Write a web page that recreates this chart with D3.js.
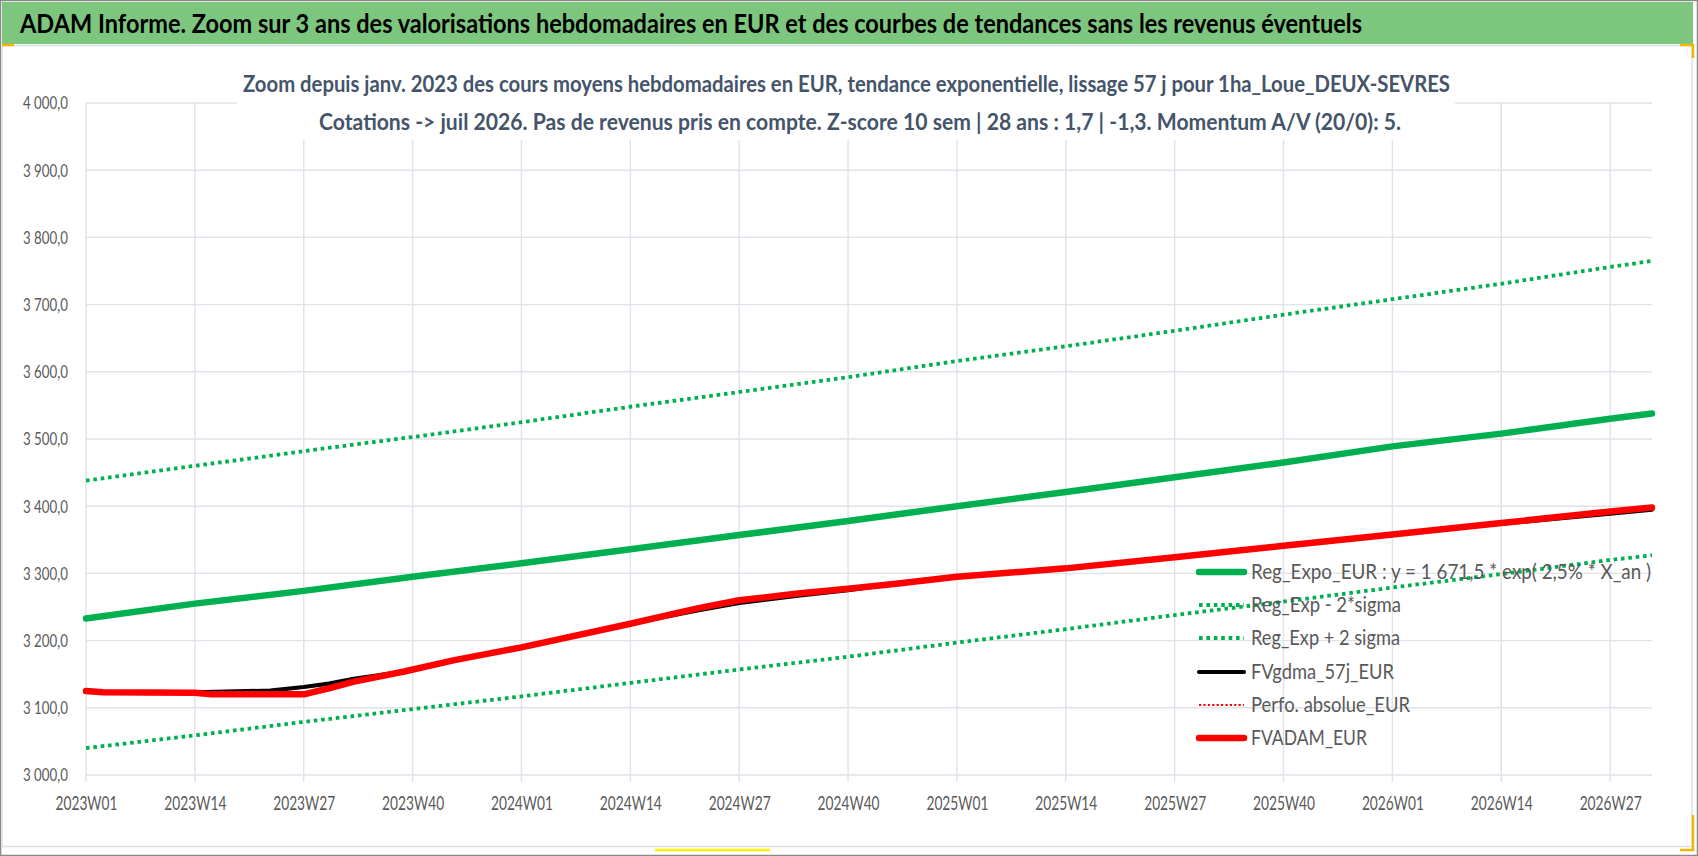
<!DOCTYPE html>
<html><head><meta charset="utf-8">
<script src="https://cdn.jsdelivr.net/npm/d3@7"></script>
<style>
body{margin:0;background:#fff}
svg{display:block}
text{font-family:Lato,"Open Sans","DejaVu Sans",sans-serif}
</style>
</head><body>
<svg id="chart" width="1698" height="856"></svg>
<script>
// ---------- DATA ----------
const categories = [];
for (const [yr, n] of [[2023, 52], [2024, 52], [2025, 52], [2026, 32]])
  for (let w = 1; w <= n; w++) categories.push(yr + "W" + String(w).padStart(2, "0"));

const tickLabels = ["2023W01","2023W14","2023W27","2023W40","2024W01","2024W14","2024W27","2024W40",
  "2025W01","2025W14","2025W27","2025W40","2026W01","2026W14","2026W27"];
const yTicks = [3000,3100,3200,3300,3400,3500,3600,3700,3800,3900,4000];

const regExpo = [["2023W01",3233],["2023W14",3255],["2023W27",3274],["2023W40",3295],["2024W01",3315],
  ["2024W14",3336],["2024W27",3357],["2024W40",3378],["2025W01",3400],["2025W14",3421],["2025W27",3443],
  ["2025W40",3465],["2026W01",3489],["2026W14",3508],["2026W27",3530],["2026W32",3538]];
const regMinus2 = [["2023W01",3040],["2023W14",3059],["2023W27",3079],["2023W40",3098],["2024W01",3117],
  ["2024W14",3137],["2024W27",3157],["2024W40",3176],["2025W01",3197],["2025W14",3217],["2025W27",3238],
  ["2025W40",3258],["2026W01",3279],["2026W14",3299],["2026W27",3320],["2026W32",3327]];
const regPlus2 = [["2023W01",3438],["2023W14",3460],["2023W27",3482],["2023W40",3503],["2024W01",3525],
  ["2024W14",3548],["2024W27",3570],["2024W40",3592],["2025W01",3616],["2025W14",3638],["2025W27",3661],
  ["2025W40",3685],["2026W01",3708],["2026W14",3731],["2026W27",3756],["2026W32",3765]];
const fvgdma = [["2023W01",3125],["2023W03",3123.5],["2023W14",3123],["2023W19",3124.5],["2023W23",3125.5],
  ["2023W27",3131],["2023W30",3136],["2023W33",3143],["2023W39",3154],["2023W45",3171],["2024W01",3190],
  ["2024W14",3225],["2024W22",3245],["2024W27",3256],["2024W34",3267],["2024W40",3275],["2024W46",3285],
  ["2025W01",3295],["2025W14",3307],["2025W27",3324],["2025W40",3341],["2026W01",3358],["2026W14",3374],
  ["2026W27",3389],["2026W32",3395]];
const perfoAbs = [["2023W01",3125],["2023W03",3123],["2023W14",3122.5],["2023W16",3120],["2023W27",3120],
  ["2023W30",3129],["2023W33",3139],["2023W39",3154],["2023W45",3171],["2024W01",3190],["2024W14",3225],
  ["2024W22",3248],["2024W27",3260],["2024W34",3270],["2024W40",3277],["2024W46",3285],["2025W01",3295],
  ["2025W14",3307.5],["2025W27",3324],["2025W40",3341],["2026W01",3358],["2026W14",3375],["2026W27",3392],
  ["2026W32",3398]];
const fvadam = [["2023W01",3125],["2023W03",3123],["2023W14",3122.5],["2023W16",3120],["2023W27",3120],
  ["2023W30",3129],["2023W33",3139],["2023W39",3154],["2023W45",3171],["2024W01",3190],["2024W14",3225],
  ["2024W22",3248],["2024W27",3260],["2024W34",3270],["2024W40",3277],["2024W46",3285],["2025W01",3295],
  ["2025W14",3307.5],["2025W27",3324],["2025W40",3341],["2026W01",3358],["2026W14",3375],["2026W27",3392],
  ["2026W32",3398]];

const titleText = "ADAM Informe. Zoom sur 3 ans des valorisations hebdomadaires en EUR et des courbes de tendances sans les revenus éventuels";
const subtitle1 = "Zoom depuis janv. 2023 des cours moyens hebdomadaires en EUR, tendance exponentielle, lissage 57 j pour 1ha_Loue_DEUX-SEVRES";
const subtitle2 = "Cotations -> juil 2026. Pas de revenus pris en compte. Z-score 10 sem | 28 ans : 1,7 | -1,3. Momentum A/V (20/0): 5.";
const legendLabels = ["Reg_Expo_EUR : y = 1 671,5 * exp( 2,5% *  X_an )","Reg_Exp - 2*sigma","Reg_Exp + 2 sigma",
  "FVgdma_57j_EUR","Perfo. absolue_EUR","FVADAM_EUR"];

// ---------- STYLE / LAYOUT ----------
const W = 1698, H = 856;
const svg = d3.select("#chart");
const plot = {left: 86, right: 1652, top: 103, bottom: 775};
const gridColor = "#dfe2e8";
const textGray = "#595959";

function fit(sel, w) { sel.attr("textLength", w).attr("lengthAdjust", "spacingAndGlyphs"); }

// frame
svg.append("rect").attr("x", 0.5).attr("y", 0.5).attr("width", W - 1).attr("height", H - 1)
  .attr("fill", "#fff").attr("stroke", "#8a8a8a").attr("stroke-width", 1.5);
svg.append("rect").attr("x", 2).attr("y", 45.5).attr("width", 1690).attr("height", 801)
  .attr("fill", "#fff").attr("stroke", "#dcdfe4").attr("stroke-width", 1.5);
svg.append("rect").attr("x", 2).attr("y", 2).attr("width", 1691).attr("height", 42).attr("fill", "#7dc67e");

// selection marks
const mk = svg.append("g").attr("fill", "none").attr("stroke-width", 2.5);
mk.append("path").attr("d", "M2,45 H14").attr("stroke", "#f2b600");
mk.append("path").attr("d", "M1680,45 H1693 V58").attr("stroke", "#f2b600");
mk.append("path").attr("d", "M1693,815 V850 H1680").attr("stroke", "#f2b600");
mk.append("path").attr("d", "M655,850 H770").attr("stroke", "#fff000");

// title
svg.append("text").attr("x", 20).attr("y", 33).attr("font-size", 26.5).attr("font-weight", 700)
  .attr("fill", "#000").text(titleText).call(fit, 1342);

// scales
const x = d3.scalePoint().domain(categories).range([plot.left, plot.right]).padding(0);
const y = d3.scaleLinear().domain([3000, 4000]).range([plot.bottom, plot.top]);

// grid
const grid = svg.append("g");
grid.selectAll("line.h").data(yTicks).join("line")
  .attr("x1", plot.left).attr("x2", plot.right).attr("y1", d => y(d)).attr("y2", d => y(d))
  .attr("stroke", gridColor).attr("stroke-width", 1.4);
grid.selectAll("line.v").data(tickLabels).join("line")
  .attr("x1", d => x(d)).attr("x2", d => x(d)).attr("y1", plot.top).attr("y2", plot.bottom + 7)
  .attr("stroke", gridColor).attr("stroke-width", 1.4);

// axes labels
const fr = d3.formatLocale({decimal: ",", thousands: "\u00a0", grouping: [3], currency: ["", "€"]});
const fmt = fr.format(",.1f");
const yAxis = d3.axisLeft(y).tickValues(yTicks).tickFormat(fmt).tickSize(0).tickPadding(18);
const gy = svg.append("g").attr("transform", `translate(${plot.left},0)`).call(yAxis);
gy.select(".domain").remove();
gy.selectAll("text").attr("font-size", 17).attr("fill", textGray).attr("font-family", "Lato")
  .attr("dy", "0.35em").call(fit, 45);

const xAxis = d3.axisBottom(x).tickValues(tickLabels).tickSize(0).tickPadding(0);
const gx = svg.append("g").attr("transform", `translate(0,${plot.bottom})`).call(xAxis);
gx.select(".domain").remove();
gx.selectAll("text").attr("font-size", 18.5).attr("fill", textGray).attr("font-family", "Lato")
  .attr("y", 35).attr("dy", 0).call(fit, 62);

// subtitle box (covers grid)
svg.append("rect").attr("x", 237).attr("y", 60).attr("width", 1218).attr("height", 80).attr("fill", "#fff");
svg.append("text").attr("x", 243).attr("y", 92).attr("font-size", 23).attr("font-weight", 700)
  .attr("fill", "#44546a").text(subtitle1).call(fit, 1207);
svg.append("text").attr("x", 319).attr("y", 130).attr("font-size", 23).attr("font-weight", 700)
  .attr("fill", "#44546a").text(subtitle2).call(fit, 1082);

// series
const line = d3.line().x(d => x(d[0])).y(d => y(d[1]));
const series = [
  {data: regExpo, color: "#00b050", width: 6.5, dash: null, cap: "round"},
  {data: regMinus2, color: "#00b050", width: 3.8, dash: "3.6 3.8", cap: "butt"},
  {data: regPlus2, color: "#00b050", width: 3.8, dash: "3.6 3.8", cap: "butt"},
  {data: fvgdma, color: "#000000", width: 4.2, dash: null, cap: "round"},
  {data: perfoAbs, color: "#ff0000", width: 2.2, dash: "2.2 2.2", cap: "butt"},
  {data: fvadam, color: "#ff0000", width: 6.5, dash: null, cap: "round"}
];
const gl = svg.append("g");
series.forEach(s => {
  gl.append("path").datum(s.data).attr("d", line).attr("fill", "none")
    .attr("stroke", s.color).attr("stroke-width", s.width).attr("stroke-linejoin", "round")
    .attr("stroke-linecap", s.cap).attr("stroke-dasharray", s.dash);
});

// legend
const legendY = [572, 605, 638, 672, 705, 738];
const legendW = [400, 150, 149, 143, 159, 116];
const lg = svg.append("g");
series.forEach((s, i) => {
  lg.append("line").attr("x1", 1199).attr("x2", 1244).attr("y1", legendY[i]).attr("y2", legendY[i])
    .attr("stroke", s.color).attr("stroke-width", s.width).attr("stroke-linecap", s.cap)
    .attr("stroke-dasharray", s.dash);
  lg.append("text").attr("x", 1251).attr("y", legendY[i]).attr("dy", "0.36em")
    .attr("font-size", 20.5).attr("fill", textGray).text(legendLabels[i]).call(fit, legendW[i]);
});
</script>
</body></html>
